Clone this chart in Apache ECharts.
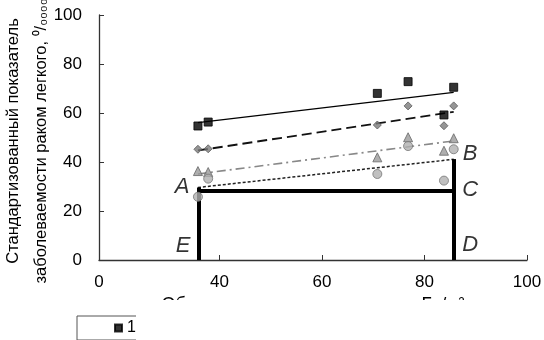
<!DOCTYPE html>
<html>
<head>
<meta charset="utf-8">
<script src="https://cdn.jsdelivr.net/npm/echarts@6/dist/echarts.min.js"></script>
<style>
  html, body { margin: 0; padding: 0; background: #fff; }
  #chart { width: 544px; height: 340px; }
</style>
</head>
<body>
<div id="chart"></div>
<script>
// ---- data ----
const seriesNames = ['1', '2', '3', '4'];
const xVals = [35.8, 37.8, 70.8, 76.8, 83.8, 85.7];
const s1 = [54.7, 56.3, 68.0, 72.8, 59.2, 70.5];
const s2 = [45.2, 45.4, 55.1, 62.9, 54.8, 62.9];
const s3 = [36.3, 35.9, 41.9, 50.1, 44.6, 49.7];
const s4 = [25.8, 33.2, 35.1, 46.5, 32.4, 45.2];

const trendX = [35.8, 85.7];
const t1 = [56.1, 68.4];
const t2 = [44.7, 60.5];
const t3 = [35.1, 48.6];
const t4 = [29.6, 41.1];

// frame E-A, A-C, D-B
const frameX = [35.9, 85.7];
const frameA = 29.6;
const frameC = 28.4;
const frameB = 41.2;

const letters = ['A', 'B', 'C', 'D', 'E'];
const letterX = [32.7, 88.9, 88.9, 88.9, 32.9];
const letterY = [29.8, 43.3, 28.6, 6.1, 5.7];

const xTickValues = [16.5, 40, 60, 80, 100];
const xTickLabels = ['0', '40', '60', '80', '100'];
const yTickLabels = ['0', '20', '40', '60', '80', '100'];

const xTitle = 'Объемная активность радона, Бк/м³';
const yTitle = 'Стандартизованный показатель\nзаболеваемости раком легкого, ⁰/₀₀₀₀';

// ---- build ----
const pts = ys => xVals.map((x, i) => [x, ys[i]]);
const trend = ys => trendX.map((x, i) => [x, ys[i]]);
const FONT = 'Liberation Sans';

const markerStyles = [
  { symbol: 'rect', size: 8, color: '#000', border: '#000' },
  { symbol: 'diamond', size: 8, color: '#7a7a7a', border: '#5a5a5a' },
  { symbol: 'triangle', size: 9, color: '#9a9a9a', border: '#666' },
  { symbol: 'circle', size: 9, color: '#b0b0b0', border: '#777' }
];
const trendStyles = [
  { color: '#000', width: 1.3, type: 'solid' },
  { color: '#111', width: 1.8, type: [10, 5] },
  { color: '#888', width: 1.6, type: [9, 4, 2, 4] },
  { color: '#222', width: 1.5, type: [3, 2] }
];
const dataSets = [s1, s2, s3, s4];
const trends = [t1, t2, t3, t4];

const series = [];
trends.forEach((t, i) => {
  series.push({
    type: 'line', data: trend(t), symbol: 'none', silent: true, z: 2,
    lineStyle: { color: trendStyles[i].color, width: trendStyles[i].width, type: trendStyles[i].type }
  });
});
series.push({
  type: 'lines', coordinateSystem: 'cartesian2d', silent: true, z: 3,
  lineStyle: { color: '#000', width: 4, opacity: 1 },
  data: [
    { coords: [[frameX[0], 0], [frameX[0], frameA]] },
    { coords: [[frameX[0], frameC], [frameX[1], frameC]] },
    { coords: [[frameX[1], 0], [frameX[1], frameB]] }
  ]
});
dataSets.forEach((d, i) => {
  const m = markerStyles[i];
  series.push({
    name: seriesNames[i], type: 'scatter', data: pts(d), z: 5,
    symbol: m.symbol, symbolSize: m.size,
    itemStyle: { color: m.color, borderColor: m.border, borderWidth: 1 }
  });
});
series.push({
  type: 'scatter', symbolSize: 0, silent: true, z: 6,
  data: letters.map((l, i) => ({ name: l, value: [letterX[i], letterY[i]] })),
  label: {
    show: true, position: 'inside', formatter: p => p.name,
    fontFamily: FONT, fontStyle: 'italic', fontSize: 22, color: '#000'
  }
});

const chart = echarts.init(document.getElementById('chart'), null, { renderer: 'canvas' });
chart.setOption({
  animation: false,
  backgroundColor: '#fff',
  grid: { left: 99, right: 17, top: 15, bottom: 80, containLabel: false, outerBoundsMode: 'none' },
  xAxis: {
    type: 'value', min: xTickValues[0], max: 100,
    name: xTitle, nameLocation: 'middle', nameGap: 32,
    nameTextStyle: { fontFamily: FONT, fontSize: 18, color: '#000' },
    axisLine: { lineStyle: { color: '#333', width: 1.3 } },
    axisTick: { show: true, inside: true, length: 5, customValues: xTickValues.slice(1), lineStyle: { color: '#333' } },
    axisLabel: {
      customValues: xTickValues, margin: 14, fontFamily: FONT, fontSize: 17, color: '#000',
      formatter: v => xTickLabels[xTickValues.indexOf(v)]
    },
    splitLine: { show: false }
  },
  yAxis: {
    type: 'value', min: 0, max: 100, interval: 20,
    axisLine: { show: true, lineStyle: { color: '#333', width: 1.3 } },
    axisTick: { show: true, inside: true, length: 5, lineStyle: { color: '#333' } },
    axisLabel: {
      margin: 17, fontFamily: FONT, fontSize: 17, color: '#000',
      formatter: v => yTickLabels[Math.round(v / 20)]
    },
    splitLine: { show: false }
  },
  legend: {
    data: seriesNames, orient: 'horizontal', left: 77, top: 316,
    padding: [4, 6, 4, 37], itemWidth: 7, itemHeight: 7, itemGap: 20,
    borderColor: '#555', borderWidth: 1,
    textStyle: { fontFamily: FONT, fontSize: 16, color: '#000' }
  },
  graphic: [
    {
      type: 'text', x: 27, y: 141, rotation: Math.PI / 2, z: 10,
      style: {
        text: yTitle, fontFamily: FONT, fontSize: 16.5, lineHeight: 28, fill: '#000',
        align: 'center', verticalAlign: 'middle', textAlign: 'center', textVerticalAlign: 'middle'
      }
    },
    {
      type: 'rect', left: 136, top: 300, z: 100,
      shape: { width: 408, height: 40 },
      style: { fill: '#fff' }
    }
  ],
  series: series
});
</script>
</body>
</html>
